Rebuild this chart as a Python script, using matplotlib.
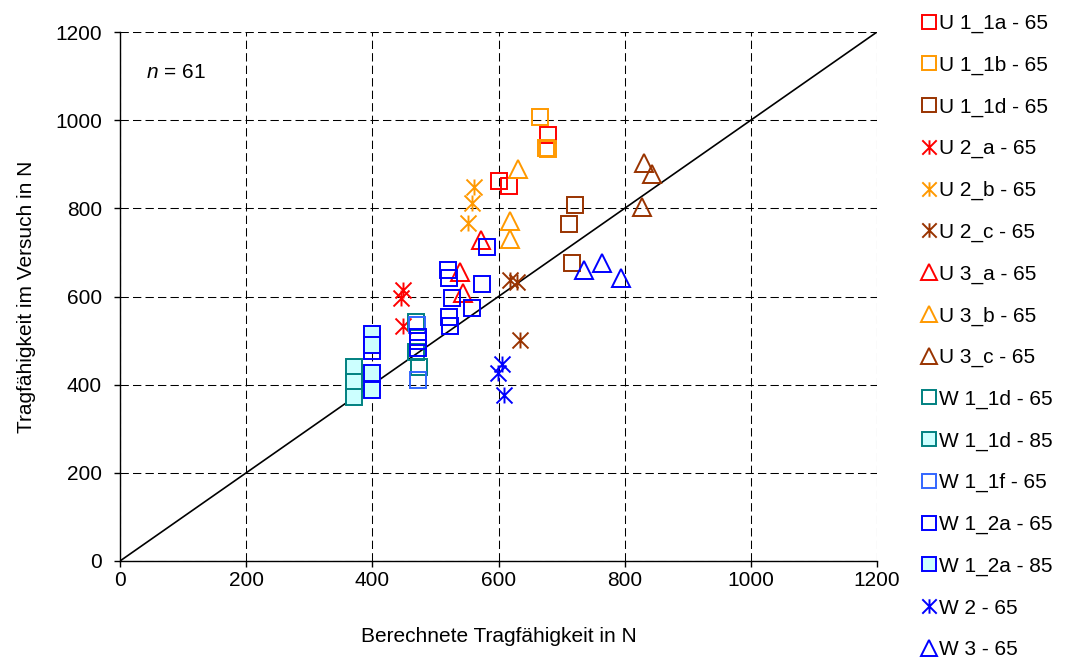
import matplotlib
matplotlib.use("Agg")
import matplotlib.pyplot as plt
from matplotlib.path import Path

plt.rcParams['font.family'] = ['Liberation Sans', 'DejaVu Sans']
plt.rcParams['mathtext.fontset'] = 'custom'
plt.rcParams['mathtext.it'] = 'Liberation Sans:italic'
plt.rcParams['mathtext.rm'] = 'Liberation Sans'

# ---- data: calculated vs. tested load capacity (N) ----
u11a_x = [601, 616, 679]
u11a_y = [862, 851, 966]
u11b_x = [666, 675, 679]
u11b_y = [1008, 936, 934]
u11d_x = [722, 712, 717]
u11d_y = [808, 764, 677]
u2a_x = [448, 445, 448]
u2a_y = [615, 596, 532]
u2b_x = [561, 558, 551]
u2b_y = [848, 813, 766]
u2c_x = [618, 630, 634]
u2c_y = [637, 634, 501]
u3a_x = [572, 539, 544]
u3a_y = [728, 656, 609]
u3b_x = [631, 618, 618]
u3b_y = [889, 772, 730]
u3c_x = [831, 843, 827]
u3c_y = [902, 878, 804]
w11d65_x = [470, 470, 474]
w11d65_y = [543, 475, 441]
w11d85_x = [371, 371, 371]
w11d85_y = [441, 405, 371]
w11f65_x = [471, 473]
w11f65_y = [535, 411]
w12a65_x = [581, 520, 522, 574, 526, 558, 522, 523, 399, 472, 472, 472]
w12a65_y = [713, 660, 641, 628, 596, 573, 553, 534, 477, 509, 498, 483]
w12a85_x = [399, 399, 399, 400]
w12a85_y = [515, 490, 426, 388]
w2_x = [606, 599, 609]
w2_y = [446, 426, 377]
w3_x = [736, 764, 794]
w3_y = [660, 677, 641]

ticks = [0, 200, 400, 600, 800, 1000, 1200]
n_samples = 61

# six-armed star: vertical stroke plus an X
star = Path([(0, -1), (0, 1), (-1, -1), (1, 1), (-1, 1), (1, -1)],
            [Path.MOVETO, Path.LINETO, Path.MOVETO, Path.LINETO,
             Path.MOVETO, Path.LINETO])

RED = '#FF0000'
ORANGE = '#FF9900'
BROWN = '#993300'
TEAL = '#008080'
CYAN = '#CCFFFF'
LBLUE = '#3366FF'
BLUE = '#0000FF'

series = [
    ("U 1_1a - 65", u11a_x, u11a_y, 's', RED, 'none'),
    ("U 1_1b - 65", u11b_x, u11b_y, 's', ORANGE, 'none'),
    ("U 1_1d - 65", u11d_x, u11d_y, 's', BROWN, 'none'),
    ("U 2_a - 65", u2a_x, u2a_y, star, RED, 'none'),
    ("U 2_b - 65", u2b_x, u2b_y, star, ORANGE, 'none'),
    ("U 2_c - 65", u2c_x, u2c_y, star, BROWN, 'none'),
    ("U 3_a - 65", u3a_x, u3a_y, '^', RED, 'none'),
    ("U 3_b - 65", u3b_x, u3b_y, '^', ORANGE, 'none'),
    ("U 3_c - 65", u3c_x, u3c_y, '^', BROWN, 'none'),
    ("W 1_1d - 65", w11d65_x, w11d65_y, 's', TEAL, 'none'),
    ("W 1_1d - 85", w11d85_x, w11d85_y, 's', TEAL, CYAN),
    ("W 1_1f - 65", w11f65_x, w11f65_y, 's', LBLUE, 'none'),
    ("W 1_2a - 65", w12a65_x, w12a65_y, 's', BLUE, 'none'),
    ("W 1_2a - 85", w12a85_x, w12a85_y, 's', BLUE, CYAN),
    ("W 2 - 65", w2_x, w2_y, star, BLUE, 'none'),
    ("W 3 - 65", w3_x, w3_y, '^', BLUE, 'none'),
]

fig = plt.figure(figsize=(10.7, 6.62), dpi=100)
ax = fig.add_axes([120 / 1070, 1 - 561 / 662, 757 / 1070, 529 / 662])

for lab, xs, ys, mk, col, fc in series:
    ms = 11.5 if mk is star else (11.5 if mk == 's' else 12.5)
    ax.plot(xs, ys, linestyle='none', marker=mk, markersize=ms,
            markeredgecolor=col, markerfacecolor=fc, markeredgewidth=1.4,
            label=lab, zorder=3)

# 1:1 reference line
ax.plot([ticks[0], ticks[-1]], [ticks[0], ticks[-1]], color='black', lw=1.2, zorder=2)

ax.set_xlim(ticks[0], ticks[-1])
ax.set_ylim(ticks[0], ticks[-1])
ax.set_xticks(ticks)
ax.set_yticks(ticks)
ax.grid(True, color='black', linestyle=(0, (8, 4)), linewidth=0.75, zorder=1)
ax.set_axisbelow(True)
for s in ('top', 'right'):
    ax.spines[s].set_visible(False)
for s in ('left', 'bottom'):
    ax.spines[s].set_linewidth(1.0)
ax.tick_params(axis='both', direction='out', length=4, width=1.0,
               labelsize=15, colors='black')
ax.tick_params(axis='y', pad=9)
ax.tick_params(axis='x', pad=3)

ax.set_xlabel("Berechnete Tragfähigkeit in N", fontsize=15, labelpad=27)
ax.set_ylabel("Tragfähigkeit im Versuch in N", fontsize=15, labelpad=14)

ax.text(42, 1107, r"$n$ = %d" % n_samples, fontsize=15, ha='left', va='center')

leg = ax.legend(loc='upper left', bbox_to_anchor=(923 / 1070, 1 - 14 / 662),
                bbox_transform=fig.transFigure, frameon=False, fontsize=15,
                handlelength=0.58, handletextpad=0.2, labelspacing=1.08,
                borderpad=0, borderaxespad=0, numpoints=1, markerscale=0.9)

fig.savefig("out.png", dpi=100)
